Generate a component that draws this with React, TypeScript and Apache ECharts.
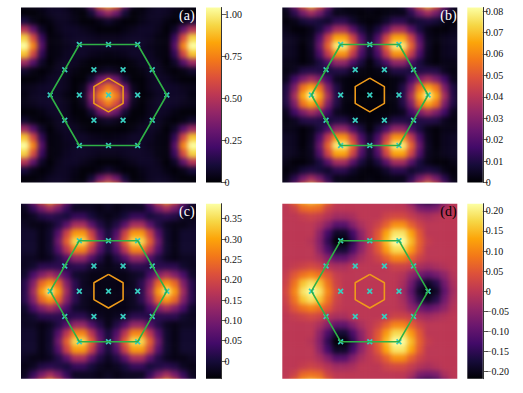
import React, { useEffect, useRef } from "react";
import * as echarts from "echarts";

const inferno = ["#000004", "#160b39", "#420a68", "#6a176e", "#932667", "#bc3754", "#dd513a", "#f37819", "#fca50a", "#f6d746", "#fcffa4"];

// one quadrant of each map, rows from the centre line outwards; the panels are symmetric
const quadA = [
  [92, 74, 40, 7, 1, 3, 6, 7, 7, 6, 3, 3],
  [74, 60, 30, 5, 1, 5, 7, 8, 7, 5, 4, 4],
  [40, 30, 9, 1, 1, 5, 7, 6, 3, 1, 1, 1],
  [7, 5, 1, 1, 3, 6, 6, 3, 1, 3, 8, 8],
  [1, 1, 1, 3, 6, 7, 5, 1, 7, 25, 44, 44],
  [3, 4, 5, 7, 7, 6, 3, 2, 17, 58, 90, 90],
  [7, 7, 7, 7, 7, 5, 3, 2, 26, 76, 112, 112],
  [5, 5, 6, 7, 7, 6, 3, 2, 19, 60, 93, 93],
  [1, 1, 3, 5, 7, 7, 5, 1, 7, 28, 50, 50],
  [8, 4, 1, 1, 4, 6, 6, 3, 1, 4, 11, 11],
  [44, 32, 10, 1, 3, 6, 7, 6, 3, 1, 1, 1],
  [90, 74, 34, 6, 1, 5, 7, 7, 6, 5, 4, 4],
];
const quadB = [
  [0, 0, 2, 2, 11, 36, 66, 82, 66, 36, 11, 2],
  [1, 1, 1, 2, 10, 28, 56, 66, 56, 28, 10, 2],
  [1, 1, 1, 2, 4, 16, 28, 36, 28, 16, 4, 2],
  [1, 2, 4, 10, 10, 8, 10, 11, 10, 4, 2, 3],
  [1, 9, 18, 32, 32, 18, 9, 3, 1, 3, 3, 4],
  [6, 18, 42, 62, 62, 42, 18, 4, 1, 4, 5, 5],
  [7, 24, 53, 78, 78, 53, 24, 5, 1, 4, 5, 5],
  [6, 19, 45, 65, 65, 45, 19, 4, 2, 4, 5, 5],
  [3, 9, 21, 36, 36, 21, 9, 3, 1, 1, 3, 4],
  [1, 2, 6, 12, 12, 6, 8, 10, 8, 3, 1, 3],
  [2, 1, 2, 3, 3, 12, 27, 36, 27, 12, 3, 1],
  [4, 3, 2, 2, 8, 28, 53, 72, 53, 28, 8, 2],
];
const quadC = [
  [-3, -3, -2, -2, 2, 14, 29, 37, 29, 14, 2, -2],
  [-3, -3, -3, -2, 2, 11, 24, 29, 24, 11, 2, -2],
  [-3, -3, -3, -2, -1, 5, 11, 15, 11, 5, -1, -2],
  [-3, -2, -1, 2, 2, 1, 2, 2, 2, -1, -2, -2],
  [-3, 1, 6, 13, 13, 6, 1, -2, -3, -2, -2, -1],
  [0, 6, 17, 27, 27, 17, 6, -1, -3, -1, -1, -1],
  [0, 9, 23, 35, 35, 23, 9, -1, -3, -1, -1, -1],
  [0, 6, 19, 29, 29, 19, 6, -1, -3, -1, -1, -1],
  [-2, 1, 7, 15, 15, 7, 1, -2, -3, -3, -2, -1],
  [-3, -2, 0, 3, 3, 0, 1, 2, 1, -2, -3, -2],
  [-2, -3, -2, -2, -2, 3, 10, 15, 10, 3, -2, -3],
  [-1, -2, -2, -2, 1, 11, 23, 32, 23, 11, 1, -2],
];
const quadD = [
  [0, 0, 0, 0, -3, -10, -19, -25, -19, -10, -3, 0],
  [0, 0, 0, 0, -2, -8, -16, -19, -16, -8, -2, 0],
  [0, 0, 0, 0, -1, -5, -8, -10, -8, -5, -1, 0],
  [0, 0, 0, 2, 2, 1, -2, -3, -2, -1, 0, 0],
  [0, 2, 6, 10, 10, 6, 2, 0, 0, 0, 0, 0],
  [0, 5, 12, 18, 18, 12, 5, 0, 0, 0, 0, 0],
  [0, 6, 15, 25, 25, 15, 6, 1, 0, 0, 0, 0],
  [0, 5, 13, 19, 19, 13, 5, 0, 0, 0, 0, 0],
  [0, 2, 6, 11, 11, 6, 2, 0, 0, 0, 0, 0],
  [0, 0, 2, 3, 3, 1, -1, -2, -1, 0, 0, 0],
  [0, 0, 0, 0, 0, -2, -7, -8, -7, -2, 0, 0],
  [0, 0, 0, 0, -1, -8, -15, -18, -15, -8, -1, 0],
];

const ticksA = [0, 0.25, 0.5, 0.75, 1];
const ticksB = [0, 0.01, 0.02, 0.03, 0.04, 0.05, 0.06, 0.07, 0.08];
const ticksC = [0, 0.05, 0.1, 0.15, 0.2, 0.25, 0.3, 0.35];
const ticksD = [-0.2, -0.15, -0.1, -0.05, 0, 0.05, 0.1, 0.15, 0.2];

const brillouin = [[-1, 0], [-0.5, 0.866], [0.5, 0.866], [1, 0], [0.5, -0.866], [-0.5, -0.866], [-1, 0]];
const innerHex = [[0, 0.289], [0.25, 0.144], [0.25, -0.144], [0, -0.289], [-0.25, -0.144], [-0.25, 0.144], [0, 0.289]];
const crosses = [
  [-1, 0], [-0.5, 0.866], [0, 0.866], [0.5, 0.866], [1, 0], [0.5, -0.866], [0, -0.866], [-0.5, -0.866],
  [-0.75, 0.433], [0.75, 0.433], [-0.75, -0.433], [0.75, -0.433],
  [-0.5, 0], [0.5, 0], [0, 0], [-0.25, 0.433], [0.25, 0.433], [-0.25, -0.433], [0.25, -0.433],
];

const panelNames = ["(a)", "(b)", "(c)", "(d)"];
const panelX = [21, 282.3, 21, 282.3];
const panelY = [7.5, 7.5, 203.7, 203.7];
const barX = [206, 467.3, 206, 467.3];
const ranges = [[0, 1.042], [0, 0.0817], [-0.0435, 0.3869], [-0.218, 0.218]];
const tickSets = [ticksA, ticksB, ticksC, ticksD];
const nameColors = ["#ffffff", "#ffffff", "#ffffff", "#000000"];
const SIZE = 175;
const CELL = SIZE / 21;
const serif = "'Liberation Serif', serif";

const cats = Array.from({ length: 23 }, (_, i) => String(i - 11));

function expand(q: number[][], scale: number, odd: boolean) {
  const out: number[][] = [];
  for (let j = -11; j <= 11; j++) {
    for (let i = -11; i <= 11; i++) {
      const v = q[Math.abs(j)][Math.abs(i)];
      out.push([i + 11, j + 11, (odd && i < 0 ? -v : v) * scale]);
    }
  }
  return out;
}
const heat = [expand(quadA, 0.01, false), expand(quadB, 0.001, false), expand(quadC, 0.01, false), expand(quadD, 0.01, true)];

function fmt(v: number) {
  if (Math.abs(v) < 1e-9) return "0";
  return (v < 0 ? "\u2212" : "") + Math.abs(v).toFixed(2);
}

export default function App() {
  const heatRef = useRef<HTMLDivElement>(null);
  const topRef = useRef<HTMLDivElement>(null);
  useEffect(() => {
    const h = echarts.init(heatRef.current!, null, { renderer: "svg", width: 523, height: 393 });
    h.setOption({
      animation: false,
      grid: panelX.map((x, i) => ({ left: x - CELL, top: panelY[i] - CELL, width: CELL * 23, height: CELL * 23, containLabel: false })),
      xAxis: panelX.map((_, i) => ({ type: "category", gridIndex: i, data: cats, show: false })),
      yAxis: panelX.map((_, i) => ({ type: "category", gridIndex: i, data: cats, show: false })),
      visualMap: ranges.map((r, i) => ({ type: "continuous", show: false, seriesIndex: i, dimension: 2, min: r[0], max: r[1], inRange: { color: inferno } })),
      series: heat.map((d, i) => ({ type: "heatmap", xAxisIndex: i, yAxisIndex: i, data: d, silent: true, itemStyle: { borderWidth: 0 } })),
    });
    const t = echarts.init(topRef.current!, null, { renderer: "svg", width: 523, height: 393 });
    const grids: any[] = [];
    const xs: any[] = [];
    const ys: any[] = [];
    const series: any[] = [];
    const graphic: any[] = [];
    panelX.forEach((x, i) => {
      grids.push({ left: x, top: panelY[i], width: SIZE, height: SIZE });
      xs.push({ type: "value", gridIndex: i, min: -1.5, max: 1.5, show: false });
      ys.push({ type: "value", gridIndex: i, min: -1.5, max: 1.5, show: false });
      series.push(
        { type: "line", xAxisIndex: i, yAxisIndex: i, data: brillouin, symbol: "none", silent: true, lineStyle: { color: "#2fb146", width: 1.6 } },
        { type: "line", xAxisIndex: i, yAxisIndex: i, data: innerHex, symbol: "none", silent: true, lineStyle: { color: "#ef9a1a", width: 1.6 } },
        {
          type: "scatter", xAxisIndex: i, yAxisIndex: i, data: crosses, silent: true, symbolSize: 6,
          symbol: "path://M2 0L5 3L8 0L10 2L7 5L10 8L8 10L5 7L2 10L0 8L3 5L0 2Z",
          itemStyle: { color: "#38cdbf", opacity: 1 },
        },
      );
      graphic.push({
        type: "text", left: x + SIZE - 17, top: panelY[i] + 1,
        style: { text: panelNames[i], fill: nameColors[i], font: `14px ${serif}` },
      });
    });
    panelX.forEach((_, i) => {
      const g = 4 + i;
      grids.push({ left: barX[i], top: panelY[i], width: 15.5, height: SIZE });
      xs.push({ type: "value", gridIndex: g, min: 0, max: 1, show: false });
      ys.push({
        type: "value", gridIndex: g, min: ranges[i][0], max: ranges[i][1], position: "right",
        splitLine: { show: false },
        axisLine: { show: true, onZero: false, lineStyle: { color: "#333333", width: 1 } },
        axisTick: { show: true, length: 5, customValues: tickSets[i], lineStyle: { color: "#333333", width: 0.8 } },
        axisLabel: { show: true, margin: 3, customValues: tickSets[i], formatter: (v: number) => fmt(v), color: "#111111", fontFamily: serif, fontSize: 10 },
      });
      graphic.push({
        type: "rect", z: -1, shape: { x: barX[i], y: panelY[i], width: 15.5, height: SIZE }, silent: true,
        style: {
          fill: new echarts.graphic.LinearGradient(0, 1, 0, 0, inferno.map((c, k) => ({ offset: k / (inferno.length - 1), color: c }))),
        },
      });
    });
    t.setOption({ animation: false, grid: grids, xAxis: xs, yAxis: ys, series, graphic });
    return () => { h.dispose(); t.dispose(); };
  }, []);
  const clip = panelX.map((x, i) => `M${x} ${panelY[i]}H${x + SIZE}V${panelY[i] + SIZE}H${x}Z`).join(" ");
  return (
    <div style={{ position: "absolute", left: 0, top: 0, width: 523, height: 393, background: "#fff", overflow: "hidden" }}>
      <div style={{ position: "absolute", left: 0, top: 0, width: 523, height: 393, clipPath: `path("${clip}")` }}>
        <div ref={heatRef} style={{ width: 523, height: 393, filter: "blur(2.5px)" }} />
      </div>
      <div ref={topRef} style={{ position: "absolute", left: 0, top: 0, width: 523, height: 393 }} />
    </div>
  );
}
